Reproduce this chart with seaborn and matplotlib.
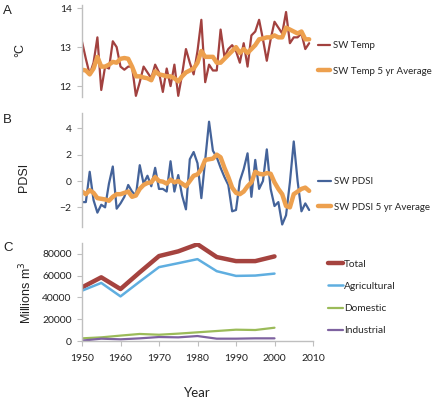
import numpy as np
import pandas as pd
import matplotlib
matplotlib.use("Agg")
import matplotlib.pyplot as plt
import seaborn as sns

# ---------------- data ----------------
years_a = list(range(1950, 2010))
sw_temp = [13.14, 12.7, 12.3, 12.6, 13.25, 11.9, 12.5, 12.45, 13.15, 13.0,
           12.5, 12.42, 12.5, 12.5, 11.75, 12.1, 12.5, 12.35, 12.2, 12.55,
           12.35, 11.85, 12.45, 12.0, 12.55, 11.75, 12.3, 12.95, 12.6, 12.3,
           12.9, 13.7, 12.1, 12.55, 12.4, 12.4, 13.45, 12.75, 12.95, 13.05,
           12.9, 12.6, 13.1, 12.5, 13.3, 13.4, 13.7, 13.2, 12.65, 13.2,
           13.65, 13.5, 13.35, 13.9, 13.1, 13.25, 13.25, 13.35, 12.95, 13.1]
sw_temp_5yr = [12.42, 12.4, 12.3, 12.45, 12.75, 12.5, 12.5, 12.55, 12.62, 12.6,
               12.7, 12.72, 12.7, 12.5, 12.25, 12.25, 12.22, 12.2, 12.15, 12.38,
               12.3, 12.28, 12.25, 12.25, 12.2, 12.12, 12.25, 12.35, 12.4, 12.45,
               12.6, 12.9, 12.75, 12.75, 12.75, 12.6, 12.6, 12.7, 12.8, 12.9,
               13.0, 12.85, 12.95, 12.85, 12.95, 13.05, 13.2, 13.22, 13.25, 13.25,
               13.3, 13.25, 13.25, 13.5, 13.45, 13.4, 13.35, 13.4, 13.2, 13.2]

years_b = list(range(1950, 2010))
sw_pdsi = [-1.6, -1.6, 0.7, -1.45, -2.4, -1.8, -2.0, -0.2, 1.1, -2.1,
           -1.7, -1.2, -0.3, -0.8, -1.1, 1.2, -0.2, 0.4, -0.4, 1.0,
           -0.6, -0.6, -0.8, 1.5, -0.8, 0.45, -1.1, -2.15, 1.65, 2.2,
           1.35, -1.3, 1.6, 4.5, 2.3, 1.8, 1.0, 0.3, -0.3, -2.3,
           -2.2, 0.0, 0.9, 2.1, -1.2, 1.6, -0.6, 0.0, 2.4, -0.6,
           -1.9, -1.6, -3.3, -2.6, -0.1, 3.0, 0.0, -2.3, -1.7, -2.2]
sw_pdsi_5yr = [-0.8, -1.0, -0.7, -0.9, -1.3, -1.35, -1.4, -1.5, -1.2, -1.0,
               -1.0, -0.9, -0.8, -1.2, -1.1, -0.6, -0.3, -0.15, -0.1, 0.3,
               0.0, -0.05, -0.2, 0.1, -0.1, 0.0, -0.2, -0.4, 0.0, 0.4,
               0.5, 0.9, 1.6, 1.65, 1.7, 2.0, 1.8, 1.0, 0.3, -0.5,
               -0.9, -1.0, -0.8, -0.4, -0.1, 0.7, 0.55, 0.5, 0.6, 0.55,
               -0.1, -0.6, -1.0, -1.9, -2.0, -1.0, -0.8, -0.6, -0.5, -0.75]

years_c = [1950, 1955, 1960, 1965, 1970, 1975, 1980, 1985, 1990, 1995, 2000]
total = [49200, 58400, 47700, 63000, 77800, 82100, 88600, 76900, 73200, 73200, 77500]
agricultural = [46200, 53300, 41000, 54500, 67700, 71300, 75000, 64000, 59700, 60000, 61800]
domestic = [2700, 3600, 5200, 6700, 6000, 7000, 8200, 9400, 10600, 10300, 12400]
industrial = [600, 2400, 1800, 2700, 3900, 3600, 4800, 2400, 2400, 2700, 2700]

# ---------------- style ----------------
sns.set_style("white")
plt.rcParams["font.family"] = ["Lato", "DejaVu Sans"]

W, H = 433, 400
fig = plt.figure(figsize=(W / 100, H / 100), dpi=100)

def axes_px(left, top, right, bottom):
    return fig.add_axes([left / W, 1 - bottom / H, (right - left) / W, (bottom - top) / H])

SPINE = "#BFBFBF"
TXT = "#222222"

def style_axis(ax, show_x=False):
    for s in ["top", "right"]:
        ax.spines[s].set_visible(False)
    ax.spines["left"].set_color(SPINE)
    ax.spines["left"].set_linewidth(1.0)
    if show_x:
        ax.spines["bottom"].set_color(SPINE)
        ax.spines["bottom"].set_linewidth(1.0)
    else:
        ax.spines["bottom"].set_visible(False)
    ax.tick_params(axis="y", direction="out", length=3.5, width=0.8, color=SPINE,
                   labelsize=7.5, labelcolor=TXT, pad=4, left=True)
    if show_x:
        ax.tick_params(axis="x", direction="out", length=3.5, width=0.8, color=SPINE,
                       labelsize=7.5, labelcolor=TXT, pad=6, bottom=True)
    else:
        ax.set_xticks([])
    ax.set_xlim(1950, 2010)
    ax.set_xlabel("")
    ax.set_ylabel("")
    ax.grid(False)
    ax.patch.set_alpha(0)

RED = "#A2413F"
ORANGE = "#EDA04E"
BLUE = "#44639A"

# ---- Panel A ----
axA = axes_px(82, 5, 313, 97)
sns.lineplot(x=years_a, y=sw_temp, ax=axA, color=RED, lw=1.6, label="SW Temp")
sns.lineplot(x=years_a, y=sw_temp_5yr, ax=axA, color=ORANGE, lw=3.2, label="SW Temp 5 yr Average")
axA.set_ylim(11.72, 14.08)
axA.set_yticks([12, 13, 14])
style_axis(axA)
axA.legend(loc="center left", bbox_to_anchor=(318 / W, 1 - 58.5 / H), bbox_transform=fig.transFigure,
           frameon=False, fontsize=7, handlelength=1.25, handletextpad=0.3, labelspacing=1.7,
           borderpad=0, borderaxespad=0)

# ---- Panel B ----
axB = axes_px(82, 113, 313, 227)
sns.lineplot(x=years_b, y=sw_pdsi, ax=axB, color=BLUE, lw=1.6, label="SW PDSI")
sns.lineplot(x=years_b, y=sw_pdsi_5yr, ax=axB, color=ORANGE, lw=3.2, label="SW PDSI 5 yr Average")
axB.set_ylim(-3.49, 5.16)
axB.set_yticks([-2, 0, 2, 4])
style_axis(axB)
axB.legend(loc="center left", bbox_to_anchor=(318 / W, 1 - 194.5 / H), bbox_transform=fig.transFigure,
           frameon=False, fontsize=7, handlelength=1.3, handletextpad=0.3, labelspacing=1.7,
           borderpad=0, borderaxespad=0)

# ---- Panel C ----
axC = axes_px(82, 242.7, 313, 341.3)
dfc = pd.DataFrame({"Year": years_c, "Total": total, "Agricultural": agricultural,
                    "Domestic": domestic, "Industrial": industrial})
series_c = [("Total", "#A5433F", 3.2), ("Agricultural", "#5FAEE0", 1.8),
            ("Domestic", "#9BBB59", 1.6), ("Industrial", "#7E62A0", 1.6)]
for name, col, lw in series_c:
    sns.lineplot(data=dfc, x="Year", y=name, ax=axC, color=col, lw=lw, label=name)
axC.set_ylim(0, 90000)
axC.set_yticks([0, 20000, 40000, 60000, 80000])
style_axis(axC, show_x=True)
axC.set_xticks([1950, 1960, 1970, 1980, 1990, 2000, 2010])
axC.legend(loc="center left", bbox_to_anchor=(328 / W, 1 - 297.5 / H), bbox_transform=fig.transFigure,
           frameon=False, fontsize=7.3, handlelength=1.5, handletextpad=0.1, labelspacing=1.3,
           borderpad=0, borderaxespad=0)

# ---- labels ----
AR = ["Liberation Sans", "DejaVu Sans"]
fig.text(20.5 / W, 1 - 50 / H, "°C", rotation=90, ha="center", va="center", fontsize=9, family=AR, color=TXT)
fig.text(23.5 / W, 1 - 177 / H, "PDSI", rotation=90, ha="center", va="center", fontsize=9, family=AR, color=TXT)
fig.text(26 / W, 1 - 293 / H, "Millions m$^3$", rotation=90, ha="center", va="center", fontsize=9, family=AR, color=TXT)
fig.text(197.5 / W, 1 - 393 / H, "Year", ha="center", va="center", fontsize=9.5, color=TXT)
for lab, yy in [("A", 11), ("B", 120), ("C", 248)]:
    fig.text(3 / W, 1 - yy / H, lab, ha="left", va="center", fontsize=9.5, family=AR, color=TXT)

fig.savefig("out.png", dpi=100)
